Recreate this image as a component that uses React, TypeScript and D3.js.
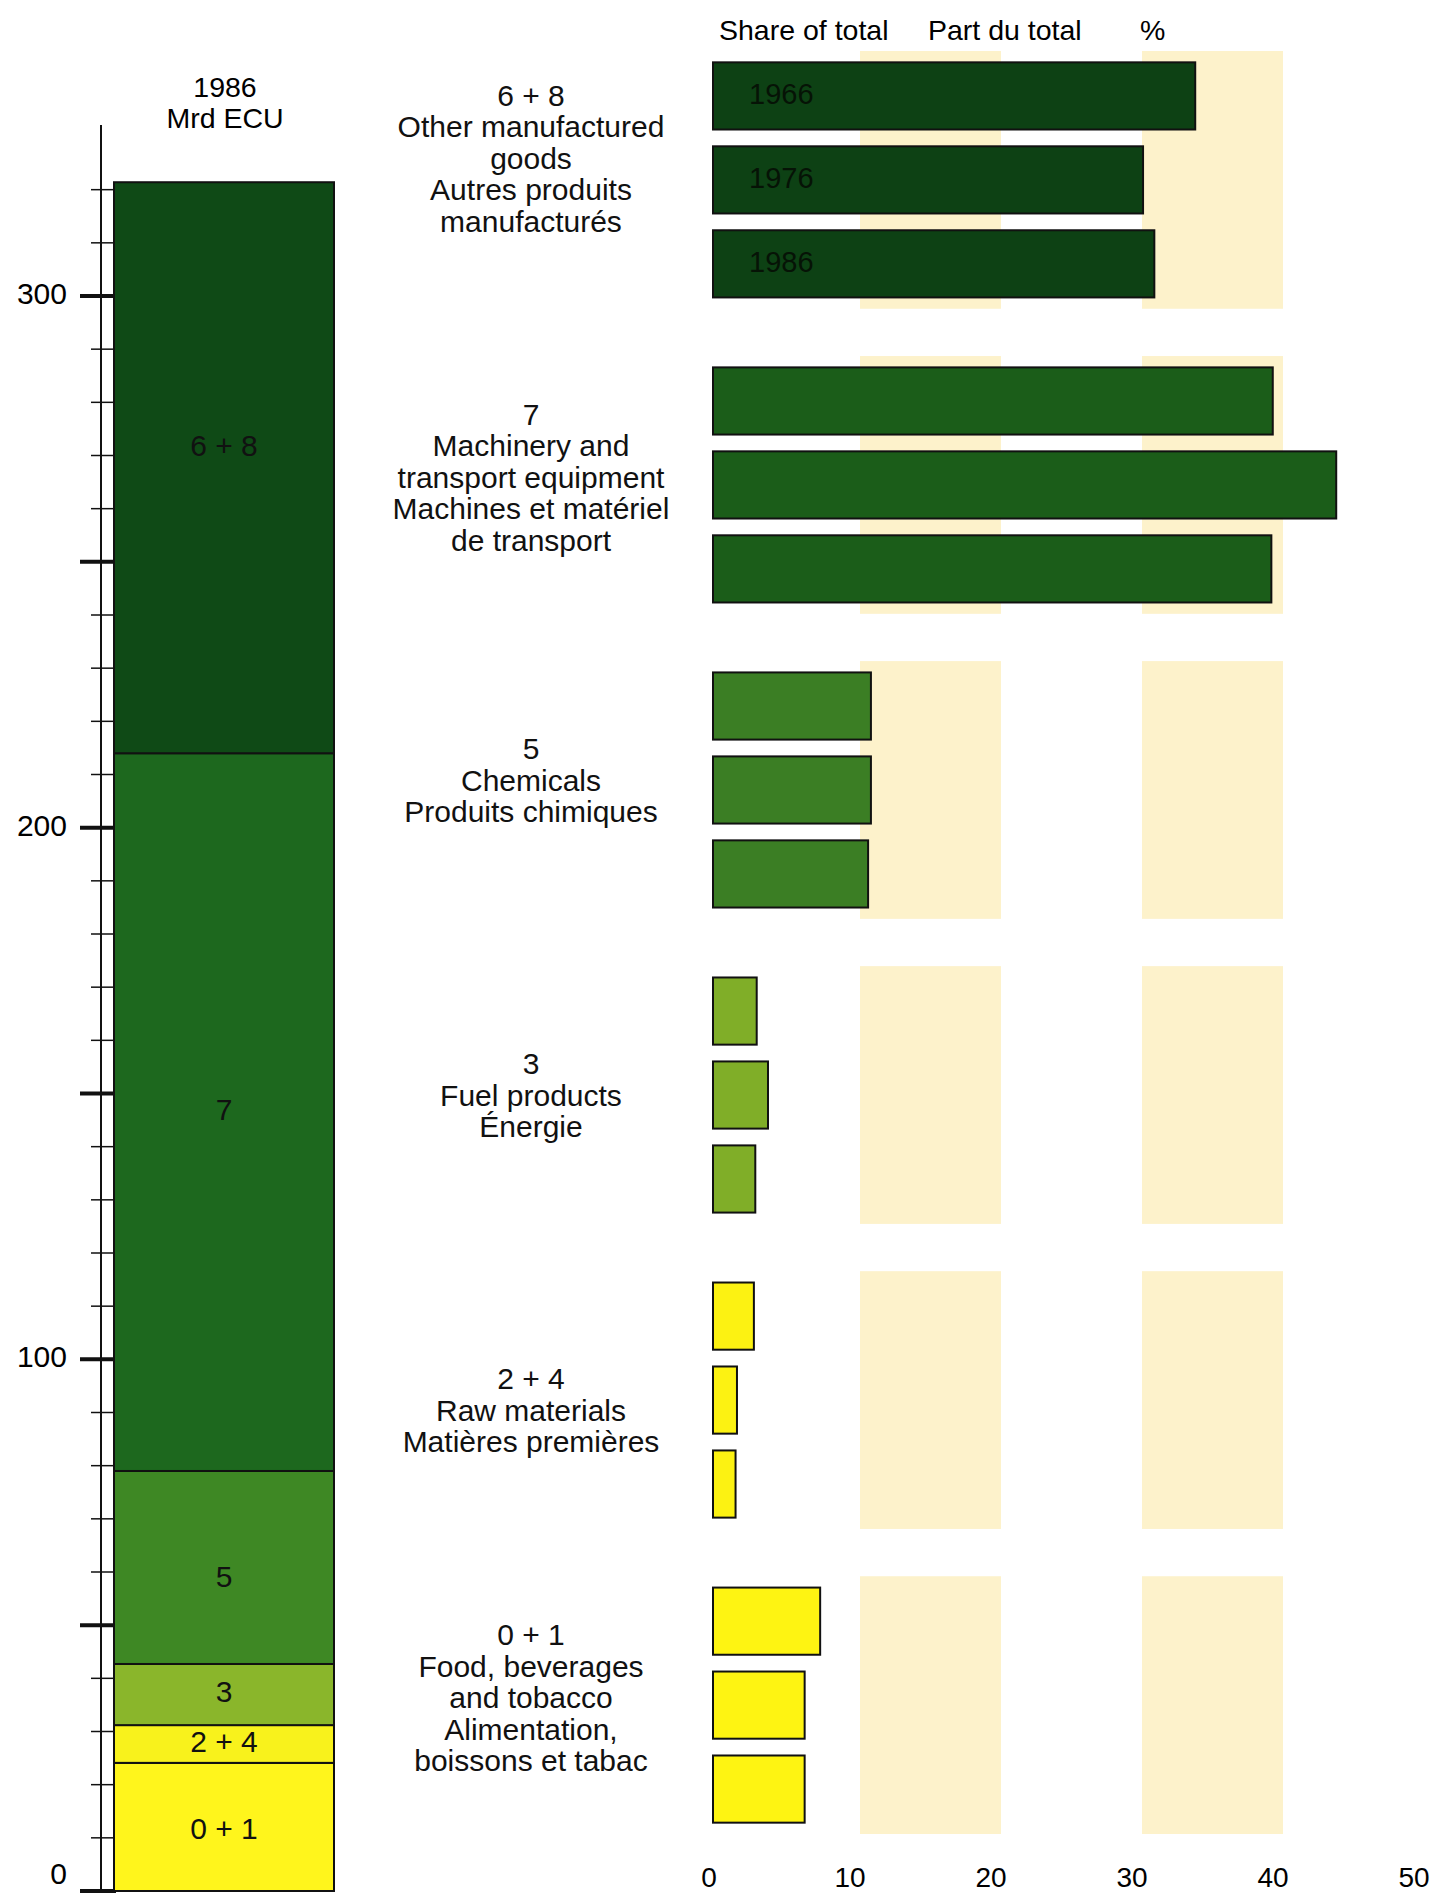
import * as d3 from 'd3'

// 1986 totals, Mrd ECU, stacked from the bottom
const stackCodes = ['0 + 1', '2 + 4', '3', '5', '7', '6 + 8']
const stackValues = [24.1, 7.1, 11.5, 36.3, 135.0, 107.4]

// share of total, %, top to bottom
const shareCodes = ['6 + 8', '7', '5', '3', '2 + 4', '0 + 1']
const years = ['1966', '1976', '1986']
const share1966 = [34.2, 39.7, 11.2, 3.1, 2.9, 7.6]
const share1976 = [30.5, 44.2, 11.2, 3.9, 1.7, 6.5]
const share1986 = [31.3, 39.6, 11.0, 3.0, 1.6, 6.5]

const labelLines = [
  ['6 + 8', 'Other manufactured', 'goods', 'Autres produits', 'manufacturés'],
  ['7', 'Machinery and', 'transport equipment', 'Machines et matériel', 'de transport'],
  ['5', 'Chemicals', 'Produits chimiques'],
  ['3', 'Fuel products', 'Énergie'],
  ['2 + 4', 'Raw materials', 'Matières premières'],
  ['0 + 1', 'Food, beverages', 'and tobacco', 'Alimentation,', 'boissons et tabac'],
]

const yTickLabels = [0, 100, 200, 300]
const xTickLabels = [0, 10, 20, 30, 40, 50]
const shadedRanges: [number, number][] = [[10, 20], [30, 40]]

const stackColors: Record<string, string> = {
  '6 + 8': '#0f4a16',
  '7': '#1d681e',
  '5': '#3e8824',
  '3': '#8ab62b',
  '2 + 4': '#f8f21c',
  '0 + 1': '#fff51c',
}
const barColors: Record<string, string> = {
  '6 + 8': '#0d4114',
  '7': '#1b5d19',
  '5': '#3b7e24',
  '3': '#80ae28',
  '2 + 4': '#fcf212',
  '0 + 1': '#fef412',
}

// small vertical nudges of the text blocks (px)
const labelNudge = [-19, -5, -7, 3, 13, -5]
const stackLabelNudge: Record<string, number> = { '6 + 8': -20, '5': 12, '0 + 1': 4 }

const FONT = '"Liberation Sans", Arial, Helvetica, sans-serif'

const App = () => {
  const width = 1451
  const height = 1895

  // left stacked column
  const y = d3.scaleLinear().domain([0, 300]).range([1891, 296])
  const colX0 = 114
  const colX1 = 334
  const axisX = 101

  let acc = 0
  const segments = stackCodes.map((code, i) => {
    const s = { code, y0: acc, y1: acc + stackValues[i] }
    acc += stackValues[i]
    return s
  })

  const minorTicks = d3.range(0, 330, 10)

  // right bars
  const x = d3.scaleLinear().domain([0, 50]).range([713, 1418])
  const group = d3.scaleBand<string>().domain(shareCodes).range([51, 1834]).paddingInner(0.155).paddingOuter(0)
  const inner = d3.scaleBand<string>().domain(years).range([0, group.bandwidth()]).paddingInner(0.2).paddingOuter(0.135)
  const shares = [share1966, share1976, share1986]

  const lineH = 31.5

  return (
    <svg
      width={width}
      height={height}
      style={{ position: 'absolute', left: 0, top: 0, background: '#fff' }}
      fontFamily={FONT}
    >
      <rect width={width} height={height} fill="#fff" />

      {/* header left */}
      <text x={225} y={89} fontSize={28.5} textAnchor="middle" dominantBaseline="middle">1986</text>
      <text x={225} y={120} fontSize={28.5} textAnchor="middle" dominantBaseline="middle">Mrd ECU</text>

      {/* left axis */}
      <line x1={axisX} x2={axisX} y1={125} y2={y(0)} stroke="#111" strokeWidth={2} />
      {minorTicks.map((t) => {
        const major = t % 50 === 0
        return (
          <line
            key={t}
            x1={major ? 80 : 91}
            x2={colX0 + 2}
            y1={y(t)}
            y2={y(t)}
            stroke="#111"
            strokeWidth={major ? 4 : 1.5}
          />
        )
      })}
      {yTickLabels.map((t) => (
        <text
          key={t}
          x={67}
          y={Math.min(y(t), 1876)}
          fontSize={30}
          textAnchor="end"
          dominantBaseline="middle"
        >
          {t}
        </text>
      ))}

      {/* stacked column */}
      {segments.map((s) => (
        <rect
          key={s.code}
          x={colX0}
          y={y(s.y1)}
          width={colX1 - colX0}
          height={y(s.y0) - y(s.y1)}
          fill={stackColors[s.code]}
          stroke="#111"
          strokeWidth={2}
        />
      ))}
      {segments.map((s) => (
        <text
          key={s.code}
          x={(colX0 + colX1) / 2}
          y={(y(s.y0) + y(s.y1)) / 2 + (stackLabelNudge[s.code] ?? 0)}
          fontSize={30}
          textAnchor="middle"
          dominantBaseline="middle"
          fill="#111"
        >
          {s.code}
        </text>
      ))}

      {/* header right */}
      <text x={719} y={32} fontSize={28.5} dominantBaseline="middle">Share of total</text>
      <text x={928} y={32} fontSize={28.5} dominantBaseline="middle">Part du total</text>
      <text x={1140} y={32} fontSize={28.5} dominantBaseline="middle">%</text>

      {/* shaded columns */}
      {shareCodes.map((code) =>
        shadedRanges.map(([a, b]) => (
          <rect
            key={code + a}
            x={x(a) + 6}
            y={group(code)}
            width={x(b) - x(a)}
            height={group.bandwidth()}
            fill="#fdf2cb"
          />
        ))
      )}

      {/* category labels */}
      {shareCodes.map((code, gi) => {
        const lines = labelLines[gi]
        const cy = (group(code) ?? 0) + group.bandwidth() / 2 + labelNudge[gi]
        const top = cy - ((lines.length - 1) * lineH) / 2
        return (
          <text key={code} x={531} fontSize={30} textAnchor="middle" fill="#111">
            {lines.map((l, li) => (
              <tspan key={li} x={531} y={top + li * lineH} dominantBaseline="middle">
                {l}
              </tspan>
            ))}
          </text>
        )
      })}

      {/* bars */}
      {shareCodes.map((code, gi) =>
        years.map((yr, yi) => {
          const by = (group(code) ?? 0) + (inner(yr) ?? 0)
          return (
            <rect
              key={code + yr}
              x={x(0)}
              y={by}
              width={x(shares[yi][gi]) - x(0)}
              height={inner.bandwidth()}
              fill={barColors[code]}
              stroke="#111"
              strokeWidth={2}
            />
          )
        })
      )}
      {years.map((yr) => (
        <text
          key={yr}
          x={749}
          y={(group(shareCodes[0]) ?? 0) + (inner(yr) ?? 0) + inner.bandwidth() / 2}
          fontSize={29}
          dominantBaseline="middle"
          fill="#061306"
        >
          {yr}
        </text>
      ))}

      {/* x tick labels */}
      {xTickLabels.map((t) => (
        <text key={t} x={x(t) - 4} y={1880} fontSize={28} textAnchor="middle" dominantBaseline="middle">
          {t}
        </text>
      ))}
    </svg>
  )
}

export default App
